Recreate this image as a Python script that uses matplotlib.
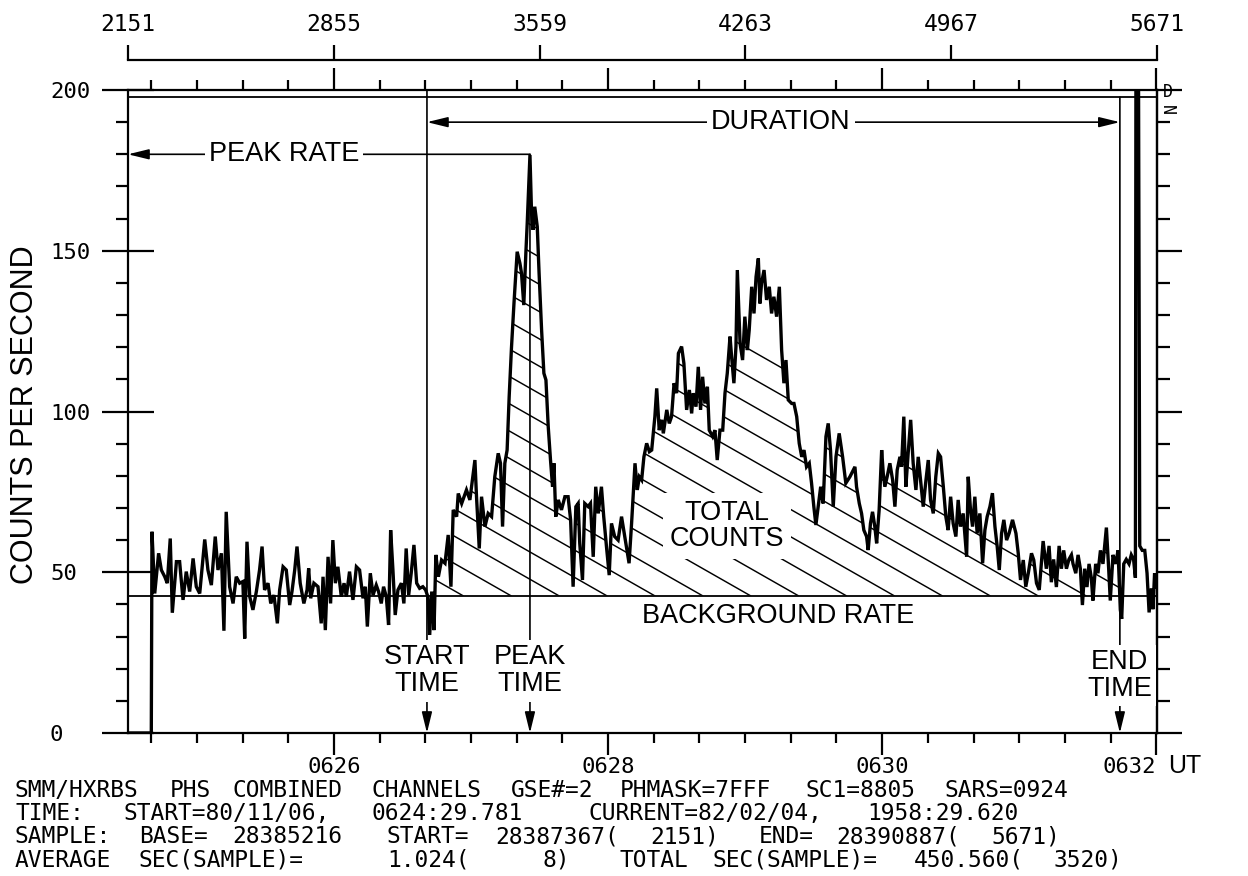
import re
import numpy as np
import matplotlib
matplotlib.use("Agg")
import matplotlib.pyplot as plt
from matplotlib.ticker import FixedLocator, MultipleLocator, NullFormatter

# ---------------- data (seconds since first sample, counts per second) ----------------
t_pre = [0.0, 10.2, 10.5, 11.7, 13.4, 14.6, 16.1, 17.2, 18.5, 19.4, 21.2, 22.6, 24.1, 25.5,
         27.0, 28.5, 29.9, 31.4, 33.6, 35.0, 36.5, 38.2, 39.4, 40.9, 42.0, 43.0, 44.5, 46.0,
         47.4, 48.9, 50.3, 51.1, 52.1, 53.3, 54.7, 56.2, 57.6, 58.7, 59.8, 61.3, 62.5, 63.9,
         65.4, 66.4, 67.9, 69.3, 70.8, 71.8, 73.0, 74.0, 75.4, 77.0, 78.4, 79.1, 80.0, 81.4,
         83.2, 84.6, 85.4, 86.4, 87.6, 88.7, 89.7, 90.8, 91.9, 93.4, 94.6, 95.6, 97.0, 98.5,
         100.0, 101.4, 102.9, 103.9, 104.8, 106.1, 107.3, 108.7, 109.7, 110.9, 111.9, 113.1,
         114.1, 115.0, 116.0, 117.0, 118.2, 119.7, 120.8, 121.8, 122.9, 124.0, 125.2, 126.4,
         127.7, 129.1, 130.3]
c_pre = [0, 0, 62.6, 43.4, 55.9, 50.7, 48.6, 46.6, 60.5, 37.4, 53.3, 53.3, 41.4, 50.2,
         44.0, 54.3, 45.5, 43.4, 60.2, 50.7, 46.0, 61.1, 50.7, 55.9, 31.8, 68.8, 45.5, 40.3,
         48.6, 46.6, 47.1, 29.4, 59.5, 42.4, 38.3, 44.0, 50.7, 58.0, 44.5, 46.6, 40.3, 42.9,
         34.1, 44.5, 51.7, 50.7, 39.8, 44.0, 50.7, 58.0, 46.6, 40.3, 44.5, 51.2, 41.9, 46.6,
         45.5, 34.1, 48.6, 32.0, 54.8, 40.3, 60.0, 46.6, 51.7, 42.4, 46.6, 42.4, 50.2, 41.4,
         51.7, 50.7, 41.9, 45.5, 33.1, 49.7, 42.9, 46.0, 44.0, 40.3, 45.5, 42.4,
         33.6, 63.1, 50.7, 36.7, 44.5, 46.6, 40.3, 57.4, 42.9, 49.7, 58.5, 46.6,
         45.0, 45.5, 44.5]

t_impulsive = [131.3, 132.1, 133.0, 134.0, 134.8, 135.9, 137.3, 138.8, 140.2, 141.4, 142.4,
               143.9, 144.6, 146.1, 148.2, 149.7, 151.9, 152.6, 153.8, 154.8, 156.3, 157.7,
               159.2, 160.6, 162.1, 163.1, 164.0, 165.0, 166.0, 166.9, 167.9, 169.0, 170.4,
               171.6, 172.3, 173.3, 174.2, 174.8, 176.0, 176.7, 177.4, 178.1, 179.2, 180.0,
               181.1, 182.1, 183.0, 184.0, 185.0, 185.9, 186.5, 187.3, 188.4, 189.8, 191.3,
               192.7, 193.8, 194.9, 196.1, 197.1, 197.8, 199.0, 200.0, 201.5, 202.5, 203.7,
               204.8, 205.9, 207.3, 208.3, 209.5, 210.7, 211.7, 213.1, 214.6, 216.1, 217.5,
               219.4]
c_impulsive = [42.4, 30.5, 44.0, 32.0, 55.4, 48.6, 53.8, 52.8, 61.6, 45.5, 69.4,
               67.3, 74.5, 71.4, 75.6, 72.5, 84.9, 73.5, 57.4, 73.5, 64.2, 68.3,
               67.3, 79.7, 87.0, 83.9, 64.2, 83.9, 88.0, 104.6, 119.7, 133.6, 149.7,
               146.1, 143.0, 133.1, 149.2, 158.5, 179.8, 161.6, 156.5, 163.7, 157.5, 143.0,
               125.3, 111.9, 109.8, 95.3, 84.9, 76.6, 83.9, 67.3, 72.5, 69.4, 73.5,
               73.5, 66.3, 45.5, 70.4, 71.4, 59.0, 47.6, 71.4, 70.4, 71.4, 54.8,
               76.6, 68.3, 76.6, 67.3, 58.0, 49.1, 65.2, 61.1, 60.0, 67.3, 61.1,
               52.8]

t_gradual = [220.5, 222.0, 223.0, 223.9, 224.9, 225.9, 227.1, 228.3, 229.3, 230.7, 231.5,
             232.6, 233.7, 234.4, 235.9, 237.0, 238.0, 239.1, 240.2, 241.0, 242.4, 243.4,
             244.6, 245.8, 246.8, 247.5, 248.7, 249.7, 250.7, 251.6, 252.6, 253.7, 254.5,
             256.0, 257.0, 258.0, 259.2, 260.4, 261.4, 262.4, 263.6, 264.3, 265.3, 266.2,
             266.8, 268.0, 269.1, 270.1, 271.2, 272.0, 273.1, 274.1, 275.0, 276.0, 276.7,
             277.4, 278.5, 279.6, 280.8, 281.8, 282.8, 284.0, 285.2, 286.2, 287.2, 288.1,
             289.1, 290.6, 291.6, 292.8, 293.9, 295.0, 296.0, 297.1, 298.3, 299.3, 300.3,
             301.2, 302.2, 303.3, 304.4, 305.6, 306.6, 307.6, 308.8, 310.0, 311.4, 312.9,
             314.3]
c_gradual = [65.2, 83.9, 75.6, 79.7, 78.7, 85.9, 90.1, 87.5, 88.0, 98.4, 107.2,
             94.2, 97.4, 93.2, 100.5, 96.3, 98.4, 108.8, 105.7, 118.1, 120.2, 115.0,
             100.5, 106.7, 99.4, 105.7, 101.5, 113.9, 100.5, 110.8, 102.5, 107.7, 94.2,
             92.2, 94.2, 84.9, 94.2, 94.2, 105.7, 111.9, 123.3, 117.0, 108.8, 120.2,
             144.0, 121.2, 116.0, 129.5, 119.1, 125.3, 138.8, 130.5, 141.9, 147.6, 133.6,
             139.9, 144.0, 134.7, 138.8, 130.5, 135.7, 129.5, 138.8, 119.1, 108.8, 116.0,
             103.6, 102.5, 102.5, 98.4, 90.1, 85.9, 88.0, 82.8, 83.9, 77.7, 70.4,
             64.7, 70.4, 76.6, 71.4, 92.2, 96.3, 88.0, 70.4, 85.9, 93.2, 85.9,
             77.7]

t_decay = [316.1, 317.6, 318.3, 319.0, 320.2, 321.2, 322.2, 323.4, 324.1, 325.1, 326.0,
           327.0, 327.8, 328.9, 330.0, 330.7, 331.4, 332.4, 333.6, 334.8, 335.8, 336.8,
           338.0, 338.7, 339.7, 340.6, 341.6, 342.7, 343.8, 345.0, 346.0, 347.0, 348.2,
           349.4, 350.4, 351.4, 352.6, 353.7, 354.8, 355.8, 357.0, 358.1, 359.1, 360.2,
           361.3, 362.5, 363.5, 364.5, 365.7, 367.2, 367.9, 368.9, 369.8, 370.8, 371.8,
           373.0, 374.2, 375.2, 376.2, 377.4, 378.5, 379.6, 380.6, 381.5, 382.5, 383.5,
           384.7, 385.8, 387.3, 388.8, 389.8, 390.8, 392.0, 393.1, 394.2, 395.6, 396.6,
           397.8, 399.0]
c_decay = [79.7, 81.8, 82.8, 76.6, 71.4, 68.3, 63.1, 61.1, 56.9, 65.2, 68.8,
           64.2, 59.0, 69.4, 88.0, 80.8, 76.6, 79.7, 83.9, 78.7, 70.4, 81.8,
           85.9, 82.8, 98.4, 76.6, 87.0, 97.4, 83.9, 75.6, 85.9, 78.7, 70.4,
           78.7, 84.9, 72.5, 68.3, 79.7, 87.0, 85.9, 76.6, 67.3, 63.1, 73.5,
           65.2, 61.1, 72.5, 64.2, 68.3, 54.8, 79.7, 69.4, 64.2, 73.5, 62.1,
           68.3, 52.8, 63.1, 67.3, 70.4, 74.6, 64.2, 57.9, 50.7, 62.1, 66.3,
           60.0, 62.1, 66.3, 62.1, 55.9, 47.6, 53.8, 45.5, 49.7, 55.9, 53.8,
           46.6, 44.5]

t_post = [400.7, 402.1, 403.3, 404.3, 405.3, 406.5, 407.7, 408.7, 409.7, 410.9, 412.0,
          413.1, 413.8, 415.0, 416.0, 417.0, 417.9, 418.9, 419.9, 420.8, 421.8, 422.5,
          423.7, 424.7, 425.8, 426.9, 428.4, 429.4, 430.1, 431.3, 432.5, 433.5, 434.5,
          435.1, 436.0, 437.1, 438.3, 439.3, 440.3, 441.1, 441.4, 442.3, 443.0, 444.1,
          445.2, 446.2, 447.1, 448.1, 448.8, 449.5, 450.3]
c_post = [59.7, 51.1, 58.2, 46.9, 54.0, 45.4, 58.2, 51.1, 56.8, 51.1, 54.0,
          55.4, 52.6, 49.7, 55.4, 51.1, 39.8, 51.1, 45.4, 52.6, 48.3, 41.2,
          52.6, 49.7, 56.8, 52.6, 63.9, 51.1, 41.2, 55.4, 52.6, 56.8, 38.3,
          35.5, 52.6, 54.0, 52.6, 55.4, 54.0, 48.3, 250.0, 250.0, 58.2, 56.8,
          56.8, 49.7, 37.5, 45.0, 38.5, 49.7, 45.4]

background_rate = 42.7
start_time = 130.9
peak_time = 176.0
peak_rate = 180.0
end_time = 434.3
total_sec = 450.56
first_sample_after_0624 = 29.781     # 0624:29.781 UT

ut_major_after_0624 = [120, 240, 360, 480]
ut_major_labels = ["0626", "0628", "0630", "0632"]
sample_ticks = [2151, 2855, 3559, 4263, 4967, 5671]
sample_first, sample_last = 2151, 5671
y_ticks = [0, 50, 100, 150, 200]

info_lines = [
    "SMM/HXRBS PHS COMBINED CHANNELS GSE#=2 PHMASK=7FFF SC1=8805 SARS=0924",
    "TIME:  START=80/11/06, 0624:29.781   CURRENT=82/02/04, 1958:29.620",
    "SAMPLE: BASE= 28385216  START= 28387367( 2151)  END= 28390887( 5671)",
    "AVERAGE SEC(SAMPLE)=    1.024(    8)   TOTAL SEC(SAMPLE)= 450.560( 3520)",
]

# ---------------- figure ----------------
W, H = 1248, 876
fig = plt.figure(figsize=(W / 100, H / 100), dpi=100)
fig.patch.set_facecolor("white")
L, R, T, B = 128, 1157, 90, 733
ax = fig.add_axes([L / W, 1 - B / H, (R - L) / W, (B - T) / H])

PLOT = "DejaVu Sans Mono"
SANS = "Liberation Sans"

t = np.array(t_pre + t_impulsive + t_gradual + t_decay + t_post)
c = np.array(c_pre + c_impulsive + c_gradual + c_decay + c_post)

ax.set_xlim(0, total_sec)
ax.set_ylim(0, 200)
ax.set_autoscale_on(False)

# data trace
ax.plot(t, c, color="black", lw=2.4, zorder=5, solid_joinstyle="miter")

# background rate and upper clip line
ax.axhline(background_rate, color="black", lw=1.3, zorder=3)
ax.axhline(197.8, color="black", lw=1.3, zorder=3)

# total counts region (used to clip the hatching)
sel = (t > start_time) & (t < end_time)
tt = np.concatenate([[start_time], t[sel], [end_time]])
cc = np.concatenate([[np.interp(start_time, t, c)], c[sel], [np.interp(end_time, t, c)]])
poly = ax.fill_between(tt, background_rate, np.maximum(cc, background_rate),
                       facecolor="none", edgecolor="none", zorder=1)
clip_paths = poly.get_paths()

# diagonal hatching: slope 0.57 (pixel units), 47.9 px apart along the background line
px_per_s = (R - L) / total_sec
px_per_c = (B - T) / 200.0
slope = 0.57 * px_per_s / px_per_c
hatch_t0 = (463 - L) / px_per_s
hatch_dt = 47.9 / px_per_s
for k in range(-2, 16):
    tk = hatch_t0 + k * hatch_dt
    span = 600.0
    for p in clip_paths:
        ln, = ax.plot([tk - span, tk], [background_rate + slope * span, background_rate],
                      color="black", lw=1.05, zorder=2)
        ln.set_clip_path(p, ax.transData)

ax.text(262.2, 64.4, "TOTAL\nCOUNTS", family=SANS, fontsize=19.5, ha="center", va="center",
        linespacing=1.0, zorder=4,
        bbox=dict(facecolor="white", edgecolor="none", pad=5))

# annotations
arrow = dict(arrowstyle="-|>,head_length=0.9,head_width=0.22", color="black", lw=1.2,
             shrinkA=0, shrinkB=0, mutation_scale=14)
darrow = dict(arrowstyle="<|-|>,head_length=0.9,head_width=0.22", color="black", lw=1.2,
              shrinkA=0, shrinkB=0, mutation_scale=14)

ax.annotate("", xy=(0, peak_rate), xytext=(peak_time, peak_rate), arrowprops=arrow, zorder=3)
ax.annotate("", xy=(peak_time, 0), xytext=(peak_time, peak_rate), arrowprops=arrow, zorder=3)
ax.annotate("", xy=(start_time, 0), xytext=(start_time, 200), arrowprops=arrow, zorder=3,
            annotation_clip=False)
ax.annotate("", xy=(end_time, 0), xytext=(end_time, 197.8), arrowprops=arrow, zorder=3)
ax.annotate("", xy=(start_time, 190.0), xytext=(end_time, 190.0), arrowprops=darrow, zorder=3)

lbl = dict(family=SANS, fontsize=19.5, ha="center", va="center", zorder=4,
           bbox=dict(facecolor="white", edgecolor="none", pad=3))
ax.text(68.3, peak_rate, "PEAK RATE", **lbl)
ax.text(285.9, 190.0, "DURATION", **lbl)
ax.text(start_time, 19.3, "START\nTIME", linespacing=1.05, **lbl)
ax.text(peak_time, 19.3, "PEAK\nTIME", linespacing=1.05, **lbl)
ax.text(end_time, 18.0, "END\nTIME", linespacing=1.05, **lbl)
ax.text(284.6, 36.5, "BACKGROUND RATE", family=SANS, fontsize=19.5, ha="center",
        va="center", zorder=4)

# ---------------- axes styling ----------------
for s in ax.spines.values():
    s.set_linewidth(1.6)

major_t = [u - first_sample_after_0624 for u in ut_major_after_0624]
minor_t = [m - first_sample_after_0624 for m in range(40, 481, 20)]
ax.xaxis.set_major_locator(FixedLocator(major_t))
ax.xaxis.set_minor_locator(FixedLocator(minor_t))
ax.set_xticklabels(ut_major_labels)
ax.tick_params(axis="x", which="major", direction="out", length=16, width=1.6,
               top=True, bottom=True, pad=1.5, labelsize=16)
ax.tick_params(axis="x", which="minor", direction="out", length=7, width=1.6,
               top=True, bottom=True)
xlabs = ax.get_xticklabels()
for lab in xlabs:
    lab.set_family(PLOT)
xlabs[-1].set_horizontalalignment("right")

ax.yaxis.set_major_locator(FixedLocator(y_ticks))
ax.yaxis.set_minor_locator(MultipleLocator(10))
ax.set_yticklabels([str(v) for v in y_ticks])
ax.tick_params(axis="y", which="major", direction="inout", length=37, width=1.6,
               left=True, right=False, pad=37.7, labelsize=16)
ax.tick_params(axis="y", which="minor", direction="out", length=9, width=1.6,
               left=True, right=False)
for lab in ax.get_yticklabels():
    lab.set_family(PLOT)
    lab.set_horizontalalignment("left")

# right-hand scale ticks
sec_y = ax.secondary_yaxis("right")
sec_y.yaxis.set_major_locator(FixedLocator(y_ticks))
sec_y.yaxis.set_minor_locator(MultipleLocator(10))
sec_y.yaxis.set_major_formatter(NullFormatter())
sec_y.tick_params(which="major", direction="out", length=18, width=1.6)
sec_y.tick_params(which="minor", direction="out", length=9, width=1.6)
sec_y.spines["right"].set_linewidth(1.6)

# sample-number scale above the plot
k_samp = (sample_last - sample_first) / total_sec
sec_x = ax.secondary_xaxis(1 + 30 / (B - T),
                           functions=(lambda x: sample_first + np.asarray(x) * k_samp,
                                      lambda s: (np.asarray(s) - sample_first) / k_samp))
sec_x.xaxis.set_major_locator(FixedLocator(sample_ticks))
sec_x.set_xticklabels([str(s) for s in sample_ticks])
sec_x.tick_params(direction="out", length=11, width=1.6, pad=6, labelsize=16.5)
sec_x.spines["top"].set_linewidth(1.6)
for lab in sec_x.get_xticklabels():
    lab.set_family(PLOT)

# UT suffix and small markers
fig.text(1168 / W, 1 - 766 / H, "UT", family=SANS, fontsize=18, ha="left", va="center")
fig.text(1163 / W, 1 - 92 / H, "D", family=PLOT, fontsize=12, ha="left", va="center")
fig.text(1163 / W, 1 - 108 / H, "N", family=PLOT, fontsize=12, ha="left", va="center",
         rotation=90)

# y-axis title
fig.text(25 / W, 1 - 415 / H, "COUNTS PER SECOND", family=SANS, fontsize=22,
         rotation=90, ha="center", va="center")

# information block (fixed-pitch plotter layout: each word at its character column)
pitch = 15.5
for i, line in enumerate(info_lines):
    yb = 1 - (797 + 23.2 * i) / H
    for m in re.finditer(r"\S+", line):
        fig.text((15 + m.start() * pitch) / W, yb, m.group(), family=PLOT, fontsize=16.5,
                 ha="left", va="baseline")

fig.savefig("out.png", dpi=100, facecolor="white")
